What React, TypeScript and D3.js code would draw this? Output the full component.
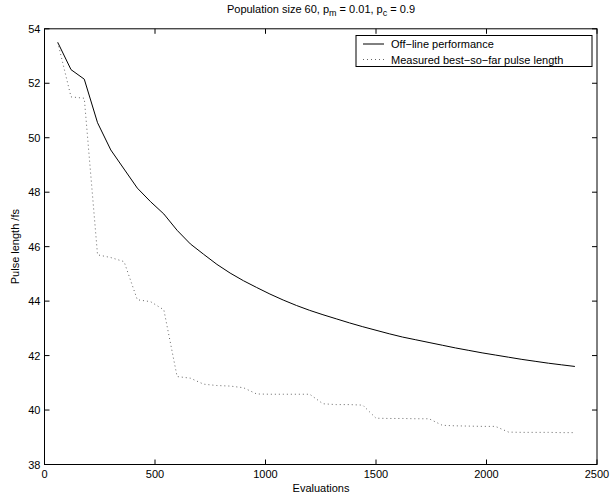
import React from "react";
import * as d3 from "d3";

const evaluations: number[] = [60,120,180,240,300,360,420,480,540,600,660,720,780,840,900,960,1020,1080,1140,1200,1260,1320,1380,1440,1500,1560,1620,1680,1740,1800,1860,1920,1980,2040,2100,2160,2220,2280,2340,2400];
const offline: number[] = [53.5,52.5,52.15,50.55,49.55,48.85,48.15,47.65,47.2,46.6,46.1,45.72,45.35,45.03,44.75,44.5,44.26,44.04,43.84,43.66,43.5,43.35,43.2,43.06,42.93,42.8,42.68,42.58,42.48,42.38,42.28,42.19,42.1,42.02,41.94,41.86,41.79,41.72,41.66,41.6];
const bestSoFar: number[] = [53.5,51.5,51.45,45.7,45.6,45.45,44.05,43.98,43.68,41.23,41.17,40.95,40.9,40.88,40.82,40.59,40.58,40.58,40.58,40.58,40.23,40.2,40.2,40.18,39.7,39.69,39.69,39.68,39.68,39.44,39.42,39.41,39.4,39.4,39.19,39.18,39.18,39.18,39.17,39.17];
const xTicks: number[] = [0,500,1000,1500,2000,2500];
const yTicks: number[] = [38,40,42,44,46,48,50,52,54];
const legendLabels: string[] = ["Off\u2212line performance","Measured best\u2212so\u2212far pulse length"];

export default function App() {
  const W = 611, H = 501;
  const L = 44.5, R = 597, T = 28.8, B = 464.5;
  const x = d3.scaleLinear().domain([0, 2500]).range([L, R]);
  const y = d3.scaleLinear().domain([38, 54]).range([B, T]);
  const line = d3.line<number>().x((_, i) => x(evaluations[i])).y((d) => y(d));
  const font = "'Liberation Sans', Arial, sans-serif";
  const tl = 5;
  return (
    <svg width={W} height={H} style={{ position: "absolute", left: 0, top: 0, background: "#fff" }} fontFamily={font}>
      <rect x={0} y={0} width={W} height={H} fill="#fff" />
      <text x={321} y={13} fontSize={11} textAnchor="middle">
        Population size 60, p<tspan fontSize={9} dy={3}>m</tspan><tspan dy={-3}> = 0.01, p</tspan><tspan fontSize={9} dy={3}>c</tspan><tspan dy={-3}> = 0.9</tspan>
      </text>
      <path d={line(offline) || ""} fill="none" stroke="#000" strokeWidth={1} />
      <path d={line(bestSoFar) || ""} fill="none" stroke="#666" strokeWidth={1} strokeDasharray="1,3" />
      <rect x={L} y={T} width={R - L} height={B - T} fill="none" stroke="#000" strokeWidth={1} />
      {xTicks.map((t) => (
        <g key={"x" + t}>
          <line x1={x(t)} x2={x(t)} y1={B} y2={B - tl} stroke="#000" />
          <line x1={x(t)} x2={x(t)} y1={T} y2={T + tl} stroke="#000" />
          <text x={x(t)} y={B + 13} fontSize={11} textAnchor="middle">{t}</text>
        </g>
      ))}
      {yTicks.map((t) => (
        <g key={"y" + t}>
          <line x1={L} x2={L + tl} y1={y(t)} y2={y(t)} stroke="#000" />
          <line x1={R} x2={R - tl} y1={y(t)} y2={y(t)} stroke="#000" />
          <text x={L - 4} y={y(t) + 4} fontSize={11} textAnchor="end">{t}</text>
        </g>
      ))}
      <text x={321} y={492} fontSize={11} textAnchor="middle">Evaluations</text>
      <text transform={`translate(19,${(T + B) / 2}) rotate(-90)`} fontSize={11} textAnchor="middle">Pulse length /fs</text>
      <rect x={356} y={35.5} width={236} height={31} fill="#fff" stroke="#000" strokeWidth={1} />
      <line x1={363} x2={384} y1={44} y2={44} stroke="#000" />
      <line x1={363} x2={384} y1={59.5} y2={59.5} stroke="#666" strokeDasharray="1,3" />
      <text x={391} y={48} fontSize={11}>{legendLabels[0]}</text>
      <text x={391} y={63.5} fontSize={11}>{legendLabels[1]}</text>
    </svg>
  );
}
